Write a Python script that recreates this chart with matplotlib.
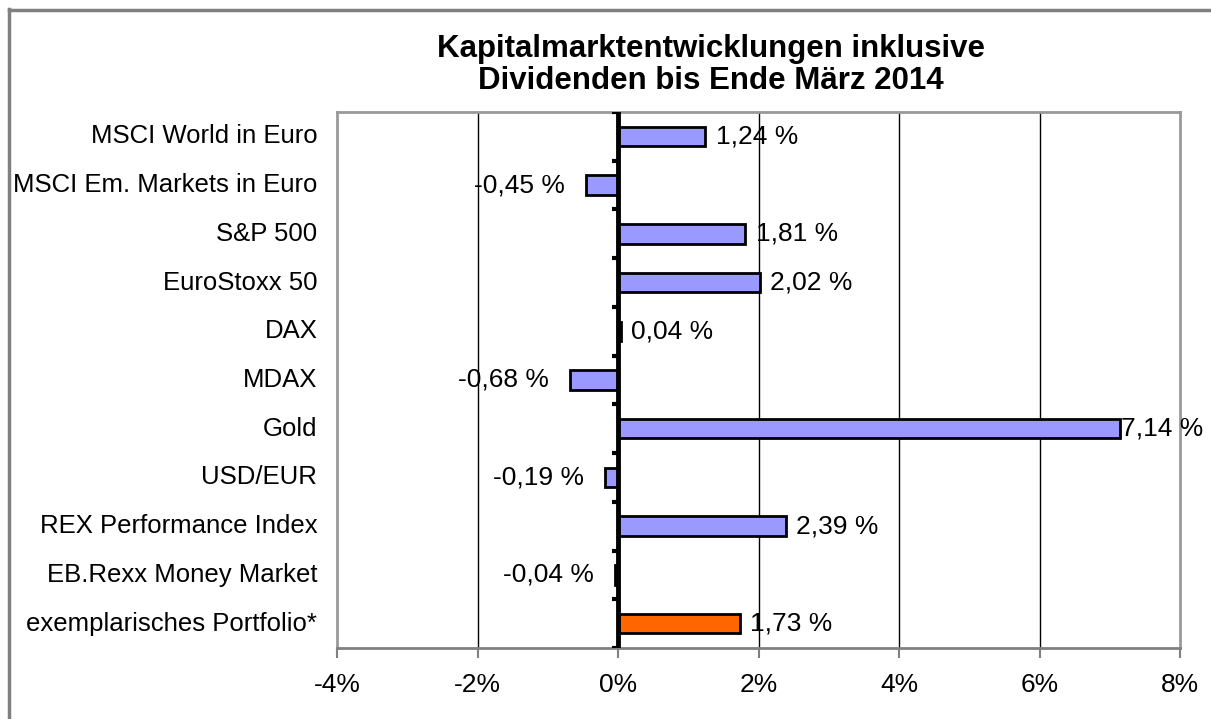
import matplotlib
matplotlib.use("Agg")
import matplotlib.pyplot as plt
from matplotlib.lines import Line2D

categories = ["MSCI World in Euro", "MSCI Em. Markets in Euro", "S&P 500", "EuroStoxx 50",
              "DAX", "MDAX", "Gold", "USD/EUR", "REX Performance Index",
              "EB.Rexx Money Market", "exemplarisches Portfolio*"]
values = [1.24, -0.45, 1.81, 2.02, 0.04, -0.68, 7.14, -0.19, 2.39, -0.04, 1.73]
colors = ["#9999FF"] * 10 + ["#FF6600"]
xticks = [-4, -2, 0, 2, 4, 6, 8]
xticklabels = ["-4%", "-2%", "0%", "2%", "4%", "6%", "8%"]
title = "Kapitalmarktentwicklungen inklusive\nDividenden bis Ende März 2014"

plt.rcParams['font.family'] = ['Liberation Sans', 'DejaVu Sans']

W, H = 1211, 719
fig = plt.figure(figsize=(W / 100, H / 100), dpi=100)
ax = fig.add_axes([337 / W, 1 - 648 / H, (1180 - 337) / W, (648 - 112) / H])

# outer frame (only left and top edges visible)
fig.lines.append(Line2D([8.5 / W, 8.5 / W], [0, 1 - 9 / H], transform=fig.transFigure,
                        color="#808080", linewidth=2.5))
fig.lines.append(Line2D([8.5 / W, 1], [1 - 9.5 / H, 1 - 9.5 / H], transform=fig.transFigure,
                        color="#808080", linewidth=2.5))

n = len(categories)
ypos = list(range(n))
ax.barh(ypos, values, height=0.4, color=colors, edgecolor="black", linewidth=2, zorder=3)
ax.set_ylim(n - 0.5, -0.5)
ax.set_xlim(-4, 8)

for x in [-2, 2, 4, 6]:
    ax.axvline(x, color="black", linewidth=1, zorder=1)
ax.axvline(0, color="black", linewidth=3.5, zorder=4)

ax.set_xticks(xticks)
ax.set_xticklabels(xticklabels, fontsize=19)
ax.tick_params(axis='x', direction='out', length=7, width=1.5, color="#808080", pad=11)

bounds = [y - 0.5 for y in ypos] + [n - 0.5]
ax.set_yticks([])
for y in bounds:
    ax.plot([-0.08, 0], [y, y], color="black", linewidth=3, zorder=5, solid_capstyle='butt')

for y, c in zip(ypos, categories):
    ax.text(-4 - 0.28, y, c, ha="right", va="center", fontsize=18.5)

for y, v in zip(ypos, values):
    txt = f"{v:.2f}".replace(".", ",") + " %"
    if v >= 0:
        off = 0.15 if v < 7 else 0.02
        ax.text(v + off, y, txt, ha="left", va="center", fontsize=19, zorder=6)
    else:
        ax.text(v - 0.3, y, txt, ha="right", va="center", fontsize=19, zorder=6)

for s in ["left", "top", "right"]:
    ax.spines[s].set_color("#999999")
    ax.spines[s].set_linewidth(2)
ax.spines["bottom"].set_color("#808080")
ax.spines["bottom"].set_linewidth(2)

fig.text(711 / W, 1 - 65 / H, title, ha="center", va="center", fontsize=22.5,
         fontweight="bold", linespacing=1.12)

fig.savefig("out.png", dpi=100)
